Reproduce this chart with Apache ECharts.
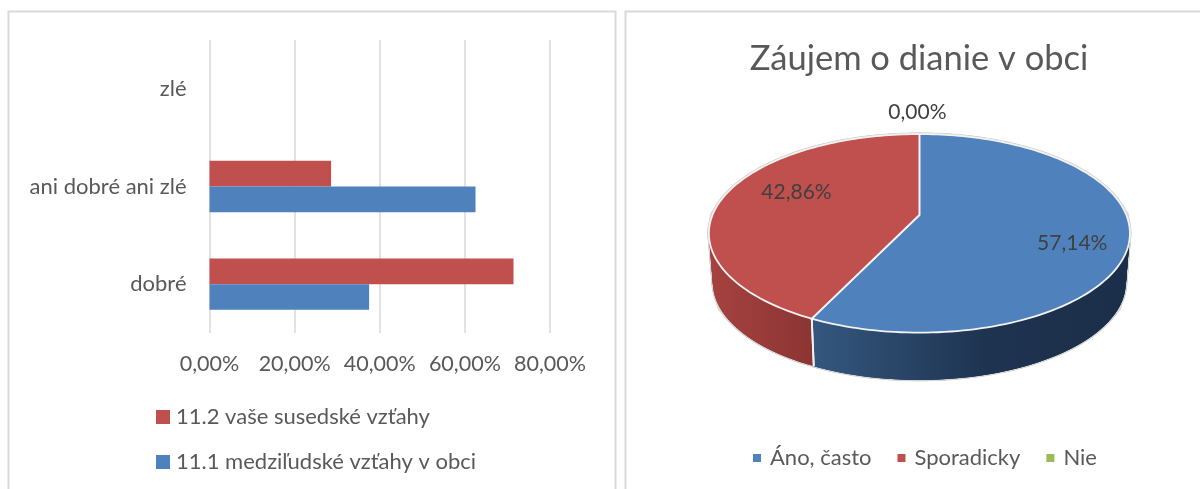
<!DOCTYPE html>
<html>
<head>
<meta charset="utf-8">
<title>Záujem o dianie v obci</title>
<style>
  html, body { margin: 0; padding: 0; background: #fff; }
  #chart { width: 1200px; height: 489px; }
</style>
</head>
<body>
<div id="chart"></div>
<script src="https://cdn.jsdelivr.net/npm/echarts@6/dist/echarts.min.js"></script>
<script>
// bar chart data
const barCategories = ['dobré', 'ani dobré ani zlé', 'zlé'];
const seriesObec = [37.5, 62.5, 0];
const seriesSusedia = [71.43, 28.57, 0];
const barNames = ['11.1 medziľudské vzťahy v obci', '11.2 vaše susedské vzťahy'];

// pie chart data
const pieTitle = 'Záujem o dianie v obci';
const pieNames = ['Áno, často', 'Sporadicky', 'Nie'];
const pieValues = [57.14, 42.86, 0];

const FONT = 'Lato';
const TEXT = '#595959';
const BLUE = '#4f81bd';
const RED = '#c0504d';
const GREEN = '#9bbb59';

const pct = v => v.toFixed(2).replace('.', ',') + '%';

// projection of the tilted disc: the top plane has its own perspective, the
// bottom plane is the same thing a bit smaller and lower
const CX = 919.4;
const R = 206.9;
const TILT = -0.1847;
function topPoint(angle, r) {
  const u = Math.sin(angle) * r;
  const v = -Math.cos(angle) * r;
  const w = 1 + TILT * v;
  return [CX + R * u / w, (56.2 * v + 215) / w];
}
function bottomPoint(angle) {
  const p = topPoint(angle, 1);
  return [CX + 0.981 * (p[0] - CX), 282.6 + 0.981 * (p[1] - 233.4)];
}
function arc(fn, a0, a1) {
  const pts = [];
  const steps = Math.max(2, Math.ceil((a1 - a0) / 0.025));
  for (let i = 0; i <= steps; i++) {
    pts.push(fn(a0 + (a1 - a0) * i / steps, 1));
  }
  return pts;
}

const total = pieValues.reduce((a, b) => a + b, 0);
const sideFills = [
  new echarts.graphic.LinearGradient(813, 0, 1130, 0, [
    { offset: 0, color: '#34577f' },
    { offset: 0.55, color: '#1e3350' },
    { offset: 1, color: '#1b2e49' }
  ], true),
  new echarts.graphic.LinearGradient(709, 0, 813, 0, [
    { offset: 0, color: '#a64240' },
    { offset: 1, color: '#8b3533' }
  ], true),
  GREEN
];
const pieColors = [BLUE, RED, GREEN];
// where each percent label sits relative to its slice's mid angle
const labelSpots = [
  { r: 0.735, dx: 0, dy: 12 },
  { r: 0.625, dx: 0, dy: -10 },
  { r: 1, dx: -2, dy: -22 }
];

const pieSeries = pieNames.map((name, idx) => {
  const before = pieValues.slice(0, idx).reduce((a, b) => a + b, 0);
  return {
    name,
    type: 'custom',
    coordinateSystem: 'none',
    itemStyle: { color: pieColors[idx] },
    data: [pieValues[idx]],
    silent: true,
    renderItem(params, api) {
      const value = api.value(0);
      const a0 = before / total * Math.PI * 2;
      const a1 = (before + value) / total * Math.PI * 2;
      const children = [];
      if (value > 0) {
        const tops = arc(topPoint, a0, a1);
        const bottoms = arc(bottomPoint, a0, a1);
        // side wall as overlapping strips, so it also reaches the silhouette edge
        const last = tops.length - 1;
        for (let i = 0; i < last; i++) {
          const j = Math.min(i + 3, last);
          const quad = [tops[i], tops[j], bottoms[j], bottoms[i]];
          children.push({
            type: 'polygon',
            z2: 0,
            shape: { points: quad },
            style: { fill: 'none', stroke: '#d6d6d6', lineWidth: 2.6 }
          });
          children.push({
            type: 'polygon',
            z2: 1,
            shape: { points: quad },
            style: { fill: sideFills[idx] }
          });
        }
        [0, last].forEach(i => {
          children.push({
            type: 'polyline',
            z2: 3,
            shape: { points: [tops[i], bottoms[i]] },
            style: { fill: 'none', stroke: '#f2f2f2', lineWidth: 1.8 }
          });
        });
        const face = tops.concat([topPoint(0, 0)]);
        children.push({
          type: 'polygon',
          z2: 0,
          shape: { points: tops },
          style: { fill: 'none', stroke: '#d2d2d2', lineWidth: 3.2 }
        });
        children.push({
          type: 'polygon',
          z2: 5,
          shape: { points: face },
          style: { fill: pieColors[idx], stroke: '#f2f2f2', lineWidth: 1.8 }
        });
      }
      const spot = labelSpots[idx];
      const p = topPoint((a0 + a1) / 2, spot.r);
      children.push({
        type: 'text',
        z2: 10,
        style: {
          text: pct(value),
          x: p[0] + spot.dx,
          y: p[1] + spot.dy,
          fill: '#404040',
          font: '21px ' + FONT,
          align: 'center',
          verticalAlign: 'middle'
        }
      });
      return { type: 'group', children };
    }
  };
});

const myChart = echarts.init(document.getElementById('chart'));
const option = {
  animation: false,
  backgroundColor: '#fff',
  textStyle: { fontFamily: FONT },
  title: {
    text: pieTitle,
    left: 914,
    top: 36,
    textAlign: 'center',
    textStyle: { color: TEXT, fontFamily: FONT, fontSize: 34.5, fontWeight: 'normal' }
  },
  graphic: [
    { type: 'rect', silent: true, shape: { x: 8.5, y: 11.5, width: 607, height: 500 }, style: { fill: 'none', stroke: '#d9d9d9', lineWidth: 2 } },
    { type: 'rect', silent: true, shape: { x: 625.5, y: 11.5, width: 600, height: 500 }, style: { fill: 'none', stroke: '#d9d9d9', lineWidth: 2 } }
  ],
  legend: [
    {
      orient: 'vertical',
      left: 156,
      top: 406,
      padding: 0,
      itemWidth: 14,
      itemHeight: 14,
      itemGap: 23,
      icon: 'rect',
      selectedMode: false,
      data: [barNames[1], barNames[0]],
      textStyle: { color: TEXT, fontFamily: FONT, fontSize: 22, lineHeight: 22, padding: [0, 0, 0, 1] }
    },
    {
      left: 753,
      top: 447,
      padding: 0,
      itemWidth: 8,
      itemHeight: 8,
      itemGap: 26,
      icon: 'rect',
      selectedMode: false,
      data: pieNames,
      textStyle: { color: TEXT, fontFamily: FONT, fontSize: 22, lineHeight: 22, padding: [0, 0, 0, 4] }
    }
  ],
  grid: { left: 209.5, right: 650, top: 40, height: 293, containLabel: false },
  xAxis: {
    type: 'value',
    min: 0,
    max: 80,
    interval: 20,
    axisLine: { show: false },
    axisTick: { show: false },
    splitLine: { show: true, lineStyle: { color: '#d9d9d9', width: 1.5 } },
    axisLabel: { color: TEXT, fontFamily: FONT, fontSize: 21.5, margin: 20, formatter: pct }
  },
  yAxis: {
    type: 'category',
    data: barCategories,
    axisLine: { show: false },
    axisTick: { show: false },
    axisLabel: { color: TEXT, fontFamily: FONT, fontSize: 22, margin: 23 }
  },
  series: [
    {
      name: barNames[1],
      type: 'bar',
      data: seriesSusedia,
      barGap: 0,
      barCategoryGap: '47.5%',
      itemStyle: { color: RED }
    },
    {
      name: barNames[0],
      type: 'bar',
      data: seriesObec,
      barGap: 0,
      barCategoryGap: '47.5%',
      itemStyle: { color: BLUE }
    }
  ].concat(pieSeries)
};
myChart.setOption(option);
window.addEventListener('resize', () => myChart.resize(), false);
</script>
</body>
</html>
